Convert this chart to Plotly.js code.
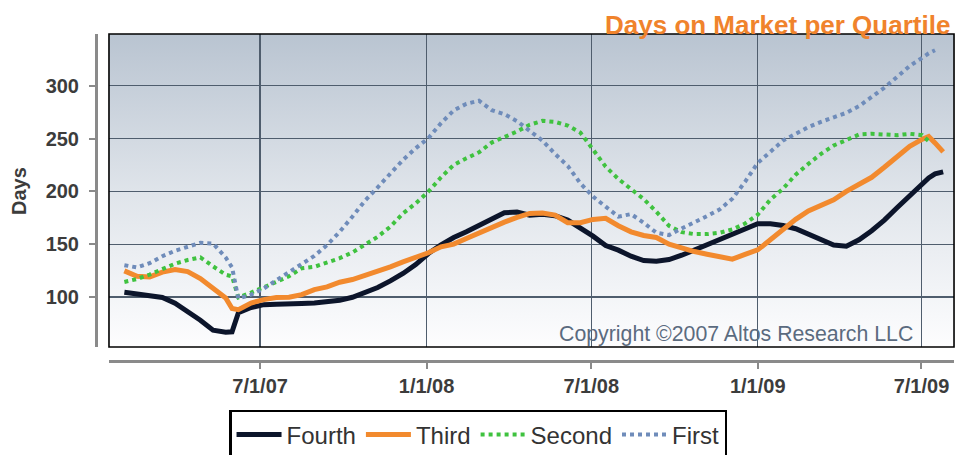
<!DOCTYPE html>
<html>
<head>
<meta charset="utf-8">
<script src="https://cdn.plot.ly/plotly-3.0.1.min.js"></script>
<style>
  html, body { margin: 0; padding: 0; background: #ffffff; }
  #chart { width: 956px; height: 455px; }
</style>
</head>
<body>
<div id="chart"></div>
<script>
// ---- Data ----
const dates = [
  '2007-02-01','2007-02-15','2007-03-01','2007-03-15','2007-03-29','2007-04-12','2007-04-26','2007-05-10','2007-05-24','2007-05-31',
  '2007-06-07','2007-06-21','2007-07-05','2007-07-19','2007-08-02','2007-08-16','2007-08-30','2007-09-13','2007-09-27','2007-10-11',
  '2007-10-25','2007-11-08','2007-11-22','2007-12-06','2007-12-20','2008-01-03','2008-01-17','2008-01-31','2008-02-14','2008-02-28',
  '2008-03-13','2008-03-27','2008-04-10','2008-04-24','2008-05-08','2008-05-22','2008-06-05','2008-06-19','2008-07-03','2008-07-17',
  '2008-07-31','2008-08-14','2008-08-28','2008-09-11','2008-09-25','2008-10-09','2008-10-23','2008-11-06','2008-11-20','2008-12-04',
  '2008-12-18','2009-01-01','2009-01-15','2009-01-29','2009-02-12','2009-02-26','2009-03-12','2009-03-26','2009-04-09','2009-04-23',
  '2009-05-07','2009-05-21','2009-06-04','2009-06-18','2009-07-02','2009-07-09','2009-07-16','2009-07-25'
];

const fourth = [
  104.5,102.5,101.3,99.5,94,86,78,68.5,66.5,67,
  85,90,92.7,93,93,93.7,94.3,95.3,96.8,99.7,
  104.1,108.9,115.2,122.2,130.7,141.1,149.4,156.3,161.7,167.4,
  174.3,179.8,180.4,177.5,178.2,176.9,172.8,165.8,157.6,148.7,
  144.3,138.6,134.5,133.9,135.4,139.5,144.5,149.8,155,159.5,
  165.5,169.3,169.3,167.7,164.6,159.2,153.5,149.1,148.1,154.1,
  162.7,172.8,184.5,196.2,208.2,212.7,216.5,218.4
];

const third = [
  124.7,119.5,119,123.5,126,124,117.4,108,99,89,
  88,94.3,97.5,99.4,99.7,102.2,107,109.5,113.9,116.5,
  120.3,124.4,128.5,133.2,137,141.8,147.5,150,155.4,160.8,
  166.5,170.9,175.3,179.1,179.4,177.5,170.3,170.3,173.4,174.4,
  167.4,161.7,158.2,156.3,150,145.9,143,140.5,138.3,135.8,
  140.3,144.6,154.1,164,173.5,181.5,187,192,200,206.3,
  213.3,222.8,233.2,242.7,249.4,252,245.9,237.4
];

const second = [
  114.2,117,121.2,126.3,131.5,135,137.5,129,121,119.5,
  99.5,104.1,108.9,114.2,119.6,127.2,128.5,132.3,136.7,142.1,
  149.1,157,166.5,179.1,188.6,199.7,213.3,225,231.3,237,
  246.2,251.3,256.7,263,266.8,265.8,262.3,255.7,239.2,223.4,
  211.7,201.9,192.7,180.7,167.4,161.4,159.5,159.5,160.8,163.9,
  169.5,177.9,192.1,202.5,215.8,226,235.5,243.4,249.1,253.8,
  254.5,253.8,253.2,254.5,253.2,247.5,null,null
];

const first = [
  130.1,127.9,132,138.6,143.7,147.5,151.3,150.6,137.4,128,
  98.5,102.2,107.9,115.8,123.7,131.7,138.9,149.1,161.7,176,
  191.2,203.8,216.2,229.8,240.8,250.3,264.6,276.6,282.9,285.8,
  276.9,273.1,266.5,257.6,248.1,235.5,224.1,207.6,195,185.5,
  176,178.5,170.3,160.8,158.6,164.9,170.3,176.6,182.9,193,
  209,226.9,237.4,248.1,254.5,260.8,265.8,270.6,274.4,280.7,
  289.6,298.1,308.3,318.7,326.6,330.7,333.6,null
];

const seriesNames = ['Fourth', 'Third', 'Second', 'First'];
const tickDates = ['2007-07-01', '2008-01-01', '2008-07-01', '2009-01-01', '2009-07-01'];
const tickLabels = ['7/1/07', '1/1/08', '7/1/08', '1/1/09', '7/1/09'];
const yTicks = [100, 150, 200, 250, 300];

// ---- Styling ----
const FONT = 'Liberation Sans, Arial, Helvetica, sans-serif';
const xDomain = [0.0151, 0.9977];
const yDomain = [0.0428, 1];

const gradSvg = '<svg xmlns="http://www.w3.org/2000/svg" width="100" height="100" viewBox="0 0 100 100" preserveAspectRatio="none">' +
  '<defs><linearGradient id="g" x1="0" y1="0" x2="0" y2="1">' +
  '<stop offset="0" stop-color="#b9c4d1"/><stop offset="0.5" stop-color="#dfe4ea"/><stop offset="1" stop-color="#fdfdfe"/>' +
  '</linearGradient></defs><rect x="0" y="0" width="100" height="100" fill="url(#g)"/></svg>';
const gradUri = 'data:image/svg+xml;charset=utf-8,' + encodeURIComponent(gradSvg);

const traces = [
  { x: dates, y: fourth, name: seriesNames[0], type: 'scatter', mode: 'lines',
    line: { color: '#0c152b', width: 5 } },
  { x: dates, y: third, name: seriesNames[1], type: 'scatter', mode: 'lines',
    line: { color: '#f28a2e', width: 5 } },
  { x: dates, y: second, name: seriesNames[2], type: 'scatter', mode: 'lines',
    line: { color: '#3fc23f', width: 4, dash: 'dot' } },
  { x: dates, y: first, name: seriesNames[3], type: 'scatter', mode: 'lines',
    line: { color: '#6f8cba', width: 4, dash: 'dot' } }
];

const layout = {
  width: 956,
  height: 455,
  margin: { l: 96, r: 0, t: 34, b: 94, pad: 0, autoexpand: false },
  paper_bgcolor: '#ffffff',
  plot_bgcolor: 'rgba(0,0,0,0)',
  font: { family: FONT, color: '#3c3c3c' },
  showlegend: true,
  legend: {
    orientation: 'h',
    x: 0.1547, xanchor: 'left',
    y: -0.1498, yanchor: 'top',
    bgcolor: '#ffffff',
    bordercolor: '#000000',
    borderwidth: 2.5,
    font: { family: FONT, size: 24, color: '#333333' },
    itemwidth: 45
  },
  xaxis: {
    type: 'date',
    domain: xDomain,
    anchor: 'free',
    position: 0,
    range: ['2007-01-15', '2009-08-06'],
    tickmode: 'array',
    tickvals: tickDates,
    ticktext: tickLabels,
    showgrid: true,
    gridcolor: '#4f5d6d',
    gridwidth: 1.3,
    showline: true,
    linecolor: '#8a8a8a',
    linewidth: 2.5,
    ticks: 'outside',
    ticklen: 6,
    tickwidth: 2,
    tickcolor: '#8a8a8a',
    tickfont: { family: FONT, size: 20, color: '#3c3c3c', weight: 'bold' },
    zeroline: false,
    fixedrange: true
  },
  yaxis: {
    domain: yDomain,
    anchor: 'free',
    position: 0,
    range: [52.6, 349],
    tickmode: 'array',
    tickvals: yTicks,
    showgrid: true,
    gridcolor: '#4f5d6d',
    gridwidth: 1.3,
    showline: true,
    linecolor: '#8a8a8a',
    linewidth: 2.5,
    ticks: 'outside',
    ticklen: 6,
    tickwidth: 2,
    tickcolor: '#8a8a8a',
    tickfont: { family: FONT, size: 20, color: '#3c3c3c', weight: 'bold' },
    ticklabelstandoff: 6,
    zeroline: false,
    fixedrange: true
  },
  images: [{
    source: gradUri,
    xref: 'paper', yref: 'paper',
    x: xDomain[0], y: yDomain[1],
    sizex: xDomain[1] - xDomain[0], sizey: yDomain[1] - yDomain[0],
    xanchor: 'left', yanchor: 'top',
    sizing: 'stretch',
    layer: 'below'
  }],
  shapes: [{
    type: 'rect', xref: 'x domain', yref: 'y domain',
    x0: 0, x1: 1, y0: 0, y1: 1,
    line: { color: '#000000', width: 1.6 },
    fillcolor: 'rgba(0,0,0,0)',
    layer: 'above'
  }],
  annotations: [
    { text: 'Days on Market per Quartile', xref: 'paper', yref: 'paper',
      x: 0.995, xanchor: 'right', y: 1.029, yanchor: 'middle', showarrow: false,
      font: { family: FONT, size: 26, color: '#f0832c', weight: 'bold' } },
    { text: 'Days', xref: 'paper', yref: 'paper', textangle: -90,
      x: -0.0895, xanchor: 'center', y: 0.52, yanchor: 'middle', showarrow: false,
      font: { family: FONT, size: 20, color: '#3c3c3c', weight: 'bold' } },
    { text: 'Copyright \u00A92007 Altos Research LLC', xref: 'paper', yref: 'paper',
      x: 0.9523, xanchor: 'right', y: 0.0817, yanchor: 'middle', showarrow: false,
      font: { family: FONT, size: 21.3, color: '#5b6b7f' } }
  ]
};

Plotly.newPlot('chart', traces, layout, { displayModeBar: false, staticPlot: true });
</script>
</body>
</html>
